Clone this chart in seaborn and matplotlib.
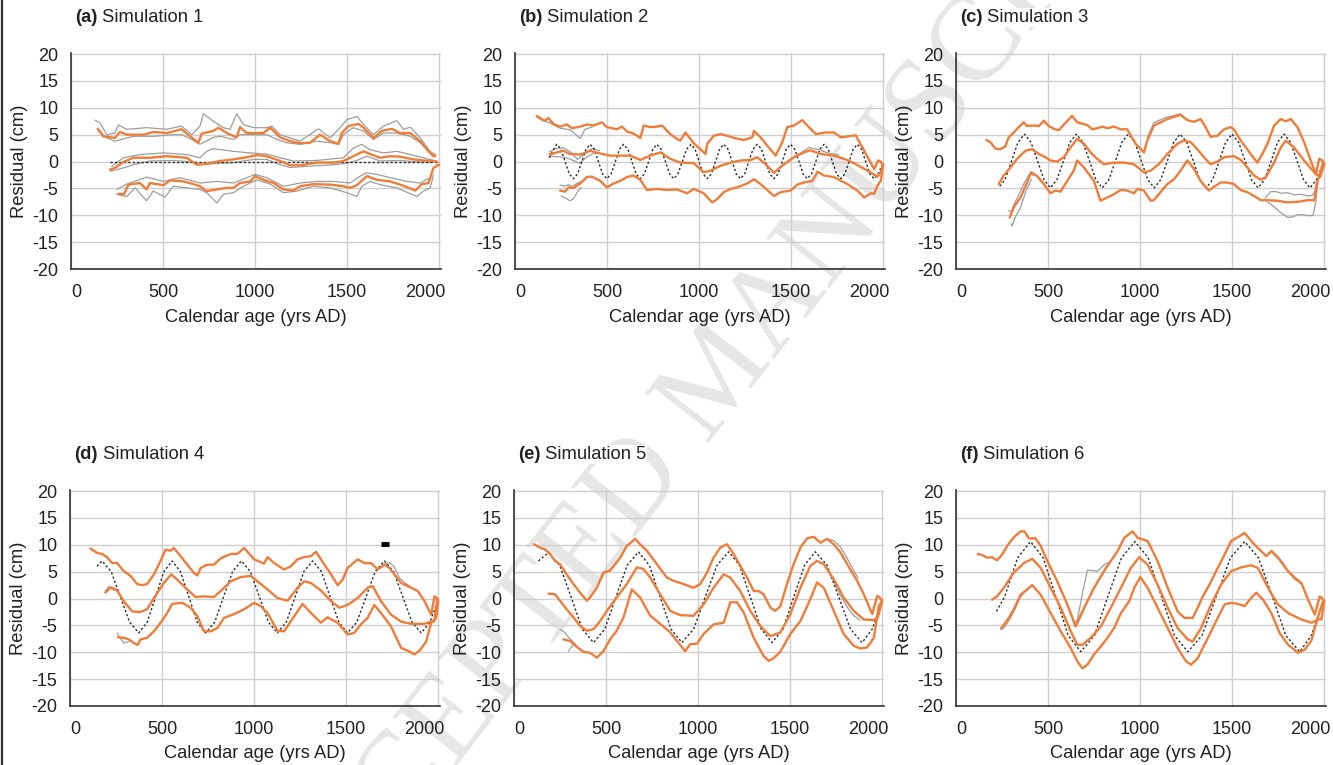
import matplotlib
matplotlib.use("Agg")
import numpy as np
import pandas as pd
import matplotlib.pyplot as plt
import matplotlib.transforms as mtransforms
from matplotlib.lines import Line2D
from matplotlib.ticker import MultipleLocator
import seaborn as sns

# ---------------------------------------------------------------------------
# Reconstructed residual series (year AD, residual in cm)
# upper / mean / lower : ensemble envelope and mean (orange)
# grey_* : individual reconstructions where they depart from the envelope
# truth : imposed signal (dotted)
# ---------------------------------------------------------------------------

# Simulation 1
s1_upper = [(145, 6.1), (176, 4.7), (239, 4.4), (266, 5.5), (303, 5.0), (393, 5.0), (447, 5.5), (520, 5.3),
            (601, 6.0), (647, 4.7), (692, 3.5), (710, 5.2), (773, 5.7), (801, 6.3), (846, 5.3), (900, 4.5),
            (918, 6.4), (955, 5.3), (1045, 5.3), (1082, 6.3), (1136, 4.5), (1190, 3.8), (1245, 3.4), (1299, 3.5),
            (1353, 5.0), (1408, 3.8), (1453, 3.3), (1471, 5.3), (1507, 6.6), (1562, 7.0), (1589, 6.3), (1643, 4.4),
            (1689, 5.7), (1743, 6.1), (1788, 5.3), (1843, 5.3), (1897, 3.8), (1942, 1.9), (1969, 1.0), (1980, 1.2)]
s1_mean = [(212, -1.5), (239, -1.2), (284, -0.1), (339, 0.7), (429, 0.7), (520, 1.0), (629, 0.7), (683, -0.6),
           (737, -0.4), (810, 0.1), (882, 0.4), (955, 0.8), (1009, 1.2), (1063, 1.0), (1136, 0.1), (1190, -0.7),
           (1245, -0.7), (1335, -0.2), (1426, -0.2), (1480, 0.1), (1534, 1.0), (1589, 1.9), (1625, 1.4),
           (1679, 0.7), (1734, 1.0), (1788, 0.9), (1861, 0.4), (1915, 0.2), (1969, 0.1), (1990, 0.0)]
s1_lower = [(257, -6.0), (288, -6.1), (312, -4.3), (375, -4.0), (411, -5.2), (429, -4.0), (502, -4.4), (538, -3.5),
            (611, -3.7), (665, -4.2), (701, -4.6), (737, -5.5), (792, -5.2), (846, -4.9), (882, -4.9), (918, -4.0),
            (973, -3.7), (1000, -2.7), (1045, -3.4), (1100, -4.0), (1154, -5.2), (1208, -5.4), (1245, -4.6),
            (1317, -4.2), (1408, -4.3), (1480, -4.6), (1516, -4.9), (1553, -4.4), (1607, -2.7), (1661, -3.4),
            (1734, -3.7), (1806, -4.5), (1870, -5.4), (1906, -4.2), (1942, -4.0), (1969, -1.2), (1991, -0.7),
            (2000, -0.6)]
s1_grey_a = [(130, 7.7), (158, 7.2), (194, 5.0), (239, 5.3), (257, 6.8), (303, 6.0), (411, 6.3), (520, 6.0),
             (601, 6.6), (656, 5.0), (701, 6.6), (719, 8.9), (773, 7.5), (828, 6.3), (864, 6.0), (900, 8.9),
             (937, 6.9), (991, 6.3), (1063, 6.3), (1090, 6.6), (1136, 5.0), (1190, 4.4), (1245, 3.8), (1344, 6.1),
             (1408, 4.4), (1462, 6.3), (1498, 7.8), (1553, 8.4), (1589, 6.9), (1643, 5.0), (1698, 6.6),
             (1770, 7.6), (1806, 6.0), (1843, 6.4), (1897, 4.4), (1951, 1.9), (1978, 1.3)]
s1_grey_b = [(149, 5.7), (194, 4.4), (239, 3.8), (339, 4.7), (447, 4.7), (556, 5.0), (601, 5.0), (656, 4.1),
             (701, 3.2), (773, 4.5), (810, 4.7), (882, 4.1), (918, 5.0), (991, 5.0), (1063, 5.0), (1118, 4.1),
             (1172, 3.5), (1245, 3.2), (1335, 3.8), (1408, 3.5), (1453, 3.2), (1480, 5.0), (1534, 6.3), (1589, 5.7),
             (1643, 4.1), (1698, 5.3), (1770, 5.3), (1843, 4.7), (1897, 3.5), (1951, 1.6), (1978, 0.8)]
s1_grey_c = [(221, -0.9), (284, 0.7), (375, 1.3), (502, 1.6), (629, 1.3), (701, 0.7), (737, 1.9), (773, 2.4),
             (882, 1.9), (973, 1.6), (1063, 1.4), (1136, 0.7), (1208, 0.1), (1335, 0.2), (1480, 0.7), (1534, 2.5),
             (1580, 3.2), (1625, 2.2), (1698, 1.6), (1770, 1.9), (1843, 1.3), (1915, 0.7), (1969, 0.2)]
s1_grey_d = [(212, -1.8), (284, -1.2), (339, -0.6), (429, 0.1), (556, 0.2), (665, -0.1), (701, -0.6), (773, -0.4),
             (882, -0.2), (991, 0.4), (1063, 0.4), (1136, -0.6), (1190, -1.1), (1281, -0.9), (1426, -0.6),
             (1498, -0.3), (1553, 0.2), (1607, 1.0), (1679, 0.1), (1788, 0.2), (1897, -0.1), (1969, -0.1)]
s1_grey_e = [(248, -5.2), (303, -4.2), (411, -2.9), (502, -3.7), (592, -3.0), (701, -4.0), (792, -3.7), (882, -4.0),
             (955, -3.0), (1000, -2.4), (1063, -3.0), (1154, -4.6), (1245, -4.0), (1335, -3.7), (1426, -3.7),
             (1516, -4.0), (1571, -2.7), (1607, -2.1), (1661, -2.4), (1734, -3.0), (1825, -3.7), (1897, -4.0),
             (1951, -3.0), (1969, -1.2)]
s1_grey_f = [(248, -6.1), (303, -6.5), (348, -4.9), (411, -7.3), (447, -5.5), (511, -6.6), (556, -4.6), (629, -4.9),
             (701, -5.2), (737, -5.8), (792, -7.7), (828, -6.1), (882, -5.8), (937, -4.6), (1009, -3.4), (1082, -4.2),
             (1154, -5.8), (1226, -5.5), (1317, -4.6), (1408, -4.9), (1498, -5.8), (1553, -6.5), (1580, -4.6),
             (1625, -3.7), (1679, -4.3), (1770, -4.9), (1879, -6.5), (1915, -5.5), (1951, -4.9), (1969, -2.5)]
s1_truth = [(212, 0.0), (2000, 0.0)]

# Simulation 2
s2_upper = [(118, 8.5), (136, 8.1), (163, 7.6), (181, 8.1), (209, 7.0), (245, 6.5), (281, 6.9), (309, 6.2),
            (354, 6.5), (390, 6.9), (427, 6.7), (472, 7.3), (499, 6.4), (554, 6.0), (581, 6.5), (608, 5.6),
            (644, 5.2), (681, 4.4), (699, 6.7), (735, 6.4), (771, 6.5), (799, 6.7), (844, 5.1), (880, 4.2),
            (898, 3.9), (926, 5.4), (971, 3.4), (1007, 2.3), (1035, 1.4), (1044, 3.3), (1080, 4.8), (1116, 5.1),
            (1153, 4.8), (1189, 4.4), (1243, 4.0), (1289, 4.5), (1298, 5.7), (1334, 4.5), (1379, 2.6), (1416, 1.1),
            (1452, 3.6), (1479, 6.4), (1516, 6.7), (1561, 7.7), (1588, 6.7), (1634, 5.1), (1688, 5.4), (1733, 5.4),
            (1770, 4.5), (1833, 4.8), (1851, 4.9), (1897, 2.0), (1951, -1.4), (1973, 0.2), (1987, 0.0),
            (1996, -0.5)]
s2_mean = [(187, 1.3), (227, 1.7), (263, 2.0), (299, 1.4), (354, 1.3), (408, 2.0), (463, 1.5), (517, 1.1),
           (572, 1.1), (626, 1.1), (681, 0.3), (735, 1.1), (790, 1.7), (844, 0.5), (898, -0.2), (971, -0.3),
           (1025, -2.0), (1062, -1.7), (1116, -0.8), (1171, -0.2), (1225, 0.2), (1280, 0.3), (1316, 0.8),
           (1361, -0.5), (1407, -2.1), (1461, -0.5), (1516, 0.8), (1570, 1.7), (1606, 2.1), (1661, 1.4),
           (1733, 1.1), (1788, 0.5), (1842, -0.3), (1915, -1.7), (1969, -2.8), (1987, -2.0), (2000, -0.5)]
s2_lower = [(245, -5.4), (272, -5.6), (290, -4.8), (318, -4.9), (354, -4.1), (390, -2.9), (417, -2.8), (463, -3.6),
            (499, -4.8), (535, -4.1), (572, -3.6), (608, -2.9), (644, -2.6), (681, -3.4), (717, -5.3), (771, -5.1),
            (826, -5.3), (880, -5.2), (935, -5.9), (971, -5.1), (1025, -5.9), (1071, -7.6), (1098, -7.0),
            (1134, -5.7), (1171, -5.1), (1207, -4.8), (1261, -4.1), (1298, -3.3), (1334, -4.2), (1370, -5.3),
            (1407, -6.4), (1443, -5.7), (1497, -5.4), (1534, -4.3), (1570, -3.9), (1615, -3.6), (1643, -1.9),
            (1679, -2.6), (1733, -2.9), (1806, -4.2), (1860, -5.4), (1897, -6.7), (1933, -5.9), (1951, -6.0),
            (1969, -4.5), (1987, -3.6), (2000, -0.5)]
s2_grey_a = [(118, 8.3), (150, 7.6), (190, 7.2), (245, 6.2), (300, 5.9), (330, 5.0), (354, 4.3), (380, 6.0),
             (420, 6.4)]
s2_grey_b = [(187, 1.8), (220, 2.4), (260, 2.6), (300, 1.8), (340, 0.4), (380, 1.5), (420, 2.4), (460, 2.0)]
s2_grey_c = [(190, 1.0), (230, 0.9), (270, 0.8), (310, 0.3), (350, -0.3), (390, 0.8), (430, 1.6)]
s2_grey_d = [(245, -4.4), (270, -4.6), (290, -4.3), (310, -4.6), (330, -4.2), (354, -3.8)]
s2_grey_e = [(250, -6.4), (275, -6.8), (300, -7.3), (318, -6.9), (340, -5.6), (360, -4.8)]
s2_grey_f = [(1440, -1.2), (1500, 0.6), (1560, 1.8), (1600, 2.6), (1650, 2.2), (1700, 1.6), (1760, 1.2)]
s2_truth = [(187, 0.7), (205, 2.0), (227, 3.2), (250, 2.3), (272, 0.0), (295, -2.3), (318, -3.2), (340, -2.3),
            (363, 0.0), (386, 2.3), (408, 3.2), (431, 2.3), (453, 0.0), (476, -2.3), (499, -3.2), (522, -2.3),
            (545, 0.0), (568, 2.3), (590, 3.2), (613, 2.3), (635, 0.0), (658, -2.3), (681, -3.2), (703, -2.3),
            (726, 0.0), (749, 2.3), (771, 3.2), (794, 2.3), (817, 0.0), (840, -2.3), (862, -3.2), (885, -2.3),
            (909, 0.0), (932, 2.3), (956, 3.2), (978, 2.3), (1000, 0.0), (1022, -2.3), (1044, -3.2), (1067, -2.3),
            (1089, 0.0), (1112, 2.3), (1134, 3.2), (1157, 2.3), (1180, 0.0), (1202, -2.3), (1225, -3.2),
            (1248, -2.3), (1270, 0.0), (1293, 2.3), (1316, 3.2), (1339, 2.3), (1361, 0.0), (1384, -2.3),
            (1407, -3.2), (1429, -2.3), (1452, 0.0), (1474, 2.3), (1497, 3.2), (1520, 2.3), (1543, 0.0),
            (1565, -2.3), (1588, -3.2), (1611, -2.3), (1634, 0.0), (1656, 2.3), (1679, 3.2), (1702, 2.3),
            (1724, 0.0), (1747, -2.3), (1770, -3.2), (1792, -2.3), (1815, 0.0), (1837, 2.3), (1860, 3.2),
            (1883, 2.3), (1905, 0.0), (1928, -2.3), (1951, -3.2), (1973, -2.3), (1995, -0.6)]

# Simulation 3
s3_upper = [(165, 4.0), (187, 3.6), (214, 2.4), (241, 2.3), (268, 2.8), (286, 4.5), (314, 5.4), (332, 6.1),
            (368, 7.3), (386, 6.6), (422, 6.7), (450, 6.6), (477, 7.6), (504, 6.6), (531, 6.1), (558, 5.8),
            (586, 6.9), (631, 8.5), (658, 7.3), (713, 6.8), (740, 6.0), (767, 6.2), (794, 6.5), (821, 6.2),
            (858, 6.5), (894, 6.0), (930, 6.0), (976, 3.3), (1021, 1.7), (1039, 3.9), (1075, 6.7), (1111, 7.3),
            (1148, 7.9), (1175, 8.2), (1220, 8.7), (1257, 7.7), (1293, 7.4), (1329, 7.9), (1356, 6.4), (1383, 4.6),
            (1420, 4.8), (1456, 6.0), (1492, 6.4), (1510, 6.0), (1547, 3.9), (1601, 1.4), (1637, -0.2), (1664, 1.4),
            (1692, 3.3), (1728, 6.7), (1764, 7.9), (1791, 7.5), (1819, 7.9), (1855, 6.4), (1891, 3.6), (1927, 0.2),
            (1955, -2.4), (1973, 0.5), (1991, 0.2), (2000, -0.5)]
s3_mean = [(232, -4.2), (259, -2.6), (296, -1.1), (332, 0.5), (377, 2.0), (413, 2.3), (450, 1.4), (486, 0.8),
           (513, 0.2), (549, 0.0), (586, 0.8), (622, 2.6), (658, 4.2), (695, 3.3), (731, 1.7), (767, 0.5),
           (803, -0.5), (858, -0.2), (912, -0.2), (966, -0.5), (1021, -2.0), (1057, -1.7), (1102, -0.5),
           (1148, 1.4), (1202, 3.3), (1238, 3.9), (1275, 3.6), (1311, 2.3), (1347, 0.8), (1383, -0.5), (1420, 0.0),
           (1456, 0.8), (1510, 1.0), (1547, 0.3), (1583, -1.1), (1619, -2.6), (1655, -3.4), (1683, -2.9),
           (1728, -0.2), (1764, 2.6), (1791, 3.9), (1837, 2.6), (1891, 0.2), (1946, -2.0), (1978, -2.9),
           (2000, -0.5)]
s3_lower = [(292, -10.4), (314, -8.5), (350, -6.7), (386, -3.9), (408, -2.0), (441, -2.7), (477, -4.2),
            (513, -5.9), (540, -5.4), (568, -5.6), (604, -3.6), (640, -1.7), (658, 0.2), (695, -1.1), (749, -3.6),
            (785, -7.3), (821, -6.7), (858, -6.1), (894, -5.3), (930, -5.4), (966, -5.9), (985, -5.1), (1021, -5.4),
            (1057, -7.3), (1075, -7.2), (1111, -5.7), (1148, -4.2), (1184, -3.3), (1220, -1.7), (1257, 0.2),
            (1293, -1.4), (1329, -3.6), (1374, -5.4), (1402, -4.7), (1438, -3.9), (1474, -3.9), (1510, -4.2),
            (1547, -5.3), (1583, -5.7), (1619, -6.4), (1655, -7.2), (1692, -7.2), (1746, -7.3), (1800, -7.6),
            (1855, -7.5), (1909, -7.2), (1946, -7.2), (1964, -3.6), (1978, -2.3), (1991, -0.5)]
s3_grey_a = [(286, -9.1), (300, -9.4), (314, -8.0), (340, -6.3), (370, -4.0), (400, -2.3), (420, -2.6)]
s3_grey_b = [(300, -11.6), (305, -12.0), (320, -10.5), (350, -8.6), (380, -5.5), (410, -3.3)]
s3_grey_c = [(1680, -6.8), (1710, -5.6), (1740, -5.6), (1764, -5.9), (1800, -5.8), (1840, -6.2), (1873, -6.1),
             (1910, -6.4), (1935, -6.3), (1950, -5.5), (1960, -3.6)]
s3_grey_d = [(1690, -7.5), (1728, -8.4), (1760, -9.4), (1800, -10.4), (1830, -10.3), (1855, -9.9), (1890, -9.9),
             (1918, -10.1), (1940, -10.0), (1955, -7.5), (1965, -4.0)]
s3_grey_e = [(1040, 4.5), (1075, 7.2), (1111, 7.8), (1148, 8.3), (1175, 8.5), (1220, 8.9)]
s3_truth = [(238, -4.6), (266, -3.4), (302, 0.1), (337, 3.6), (372, 5.1), (407, 3.6), (443, 0.1), (478, -3.4),
            (513, -4.9), (548, -3.4), (584, 0.1), (619, 3.6), (654, 5.1), (689, 3.6), (725, 0.1), (760, -3.4),
            (795, -4.9), (830, -3.4), (866, 0.1), (901, 3.6), (936, 5.1), (971, 3.6), (1007, 0.1), (1042, -3.4),
            (1077, -4.9), (1112, -3.4), (1148, 0.1), (1183, 3.6), (1218, 5.1), (1253, 3.6), (1289, 0.1),
            (1324, -3.4), (1359, -4.9), (1394, -3.4), (1430, 0.1), (1465, 3.6), (1500, 5.1), (1535, 3.6),
            (1571, 0.1), (1606, -3.4), (1641, -4.9), (1676, -3.4), (1712, 0.1), (1747, 3.6), (1782, 5.1),
            (1817, 3.6), (1853, 0.1), (1888, -3.4), (1923, -4.9), (1958, -3.4), (1995, -0.3)]

# Simulation 4
s4_upper = [(111, 9.3), (147, 8.5), (174, 8.3), (201, 7.7), (229, 6.6), (256, 6.6), (292, 5.1), (329, 4.2),
            (365, 2.7), (392, 2.5), (419, 2.7), (456, 4.5), (492, 7.0), (519, 9.1), (546, 8.9), (564, 9.4),
            (601, 7.9), (637, 6.3), (673, 4.8), (692, 4.3), (710, 5.7), (746, 6.3), (782, 6.3), (819, 7.5),
            (873, 8.3), (909, 8.3), (946, 9.4), (1000, 7.3), (1054, 6.5), (1073, 7.7), (1109, 6.6), (1163, 5.4),
            (1200, 6.0), (1236, 7.3), (1272, 7.7), (1309, 7.9), (1336, 8.7), (1363, 7.3), (1418, 4.5), (1454, 2.5),
            (1481, 3.5), (1508, 5.7), (1563, 7.3), (1599, 6.6), (1635, 6.6), (1672, 5.4), (1708, 6.3), (1735, 5.7),
            (1762, 4.5), (1799, 2.9), (1853, 2.0), (1889, 1.4), (1926, -0.5), (1962, -3.0), (1980, 0.4),
            (1995, 0.1), (2000, -0.6)]
s4_mean = [(192, 1.1), (220, 2.0), (256, 1.5), (292, -0.5), (338, -2.4), (383, -2.5), (419, -2.0), (456, 0.1),
           (510, 2.9), (550, 4.5), (583, 3.5), (637, 1.7), (682, 0.3), (728, 0.4), (782, 0.3), (819, 1.4),
           (873, 3.2), (927, 4.0), (982, 4.2), (1018, 3.2), (1073, 1.7), (1127, 0.1), (1182, -0.4), (1236, 2.0),
           (1272, 3.2), (1309, 2.9), (1363, 1.5), (1418, -0.5), (1463, -1.7), (1508, -1.2), (1563, 0.1),
           (1617, 2.0), (1644, 2.3), (1690, -0.5), (1744, -3.0), (1799, -4.3), (1853, -4.7), (1926, -4.7),
           (1971, -4.2), (1989, -3.6), (2000, -0.6)]
s4_lower = [(260, -7.2), (292, -7.3), (319, -7.6), (347, -8.3), (368, -8.6), (383, -7.6), (419, -7.3), (456, -6.1),
            (492, -4.5), (528, -2.7), (555, -1.0), (610, -0.8), (655, -1.7), (692, -3.3), (728, -6.1), (764, -6.1),
            (800, -5.5), (837, -3.6), (891, -2.9), (946, -2.0), (1000, -0.8), (1036, -1.4), (1073, -2.7),
            (1127, -6.0), (1163, -6.1), (1200, -4.2), (1236, -2.4), (1263, -1.0), (1309, -2.7), (1363, -4.5),
            (1399, -3.5), (1454, -4.5), (1508, -6.7), (1544, -6.4), (1581, -4.8), (1617, -3.6), (1653, -1.2),
            (1690, -2.7), (1744, -5.2), (1799, -9.2), (1835, -9.7), (1871, -10.4), (1899, -9.7), (1935, -8.0),
            (1962, -4.5), (1980, -4.2), (1995, -0.2)]
s4_grey_a = [(256, -6.4), (274, -7.4), (292, -8.3), (320, -8.0)]
s4_grey_b = [(1700, 6.3), (1735, 6.7), (1762, 5.9), (1790, 3.8), (1820, 2.9), (1850, 2.2)]
s4_grey_c = [(192, 1.4), (210, 2.2), (230, 2.1), (256, 1.7)]
s4_truth = [(147, 6.0), (174, 7.0), (224, 5.0), (274, 0.3), (324, -4.4), (374, -6.4), (419, -4.4), (465, 0.3),
            (510, 5.0), (555, 7.0), (600, 5.0), (646, 0.3), (691, -4.4), (737, -6.4), (786, -4.4), (834, 0.3),
            (883, 5.0), (931, 7.0), (980, 5.0), (1029, 0.3), (1078, -4.4), (1127, -6.4), (1175, -4.4),
            (1223, 0.3), (1270, 5.0), (1318, 7.0), (1366, 5.0), (1413, 0.3), (1461, -4.4), (1508, -6.4),
            (1558, -4.4), (1608, 0.3), (1658, 5.0), (1708, 7.0), (1758, 5.0), (1808, 0.3), (1858, -4.4),
            (1908, -6.4), (1955, -4.4), (1998, -0.5)]
s4_bar = [(1690, 10.2), (1735, 10.2)]

# Simulation 5
s5_upper = [(109, 10.1), (141, 9.5), (169, 9.1), (196, 8.3), (223, 7.0), (250, 6.4), (286, 4.5), (323, 2.7),
            (359, 1.1), (395, -0.4), (413, 0.2), (450, 2.0), (486, 4.8), (522, 5.2), (577, 7.6), (613, 9.8),
            (658, 11.1), (685, 10.1), (722, 8.9), (776, 6.4), (830, 3.9), (867, 3.3), (921, 2.7), (975, 2.0),
            (1012, 2.7), (1048, 4.8), (1084, 7.6), (1121, 9.5), (1157, 10.1), (1193, 8.3), (1229, 6.1), (1266, 3.9),
            (1302, 1.4), (1329, 1.4), (1356, 0.8), (1393, -1.7), (1420, -2.3), (1447, -1.4), (1483, 2.7),
            (1519, 6.4), (1556, 9.5), (1592, 11.2), (1628, 11.5), (1664, 10.4), (1701, 11.1), (1737, 10.1),
            (1773, 8.6), (1810, 6.4), (1864, 3.3), (1900, 0.8), (1946, -2.9), (1973, 0.5), (1987, 0.2),
            (2000, -0.4)]
s5_mean = [(187, 0.9), (223, 0.8), (250, -0.4), (286, -2.0), (323, -3.5), (359, -5.1), (395, -6.0), (432, -5.7),
           (468, -4.2), (504, -2.3), (558, 0.2), (613, 2.7), (667, 5.8), (703, 5.5), (740, 3.9), (794, 0.8),
           (849, -2.3), (903, -3.1), (975, -3.2), (1030, -1.1), (1084, 2.0), (1139, 4.5), (1175, 3.9), (1229, 1.4),
           (1284, -2.3), (1338, -5.1), (1393, -7.0), (1447, -6.3), (1501, -2.9), (1556, 2.0), (1610, 6.1),
           (1646, 7.0), (1683, 6.4), (1737, 3.6), (1791, 0.2), (1846, -2.3), (1900, -3.9), (1955, -4.0),
           (1977, -3.5), (2000, -0.4)]
s5_lower = [(268, -7.6), (305, -7.9), (341, -9.0), (377, -9.9), (413, -10.1), (450, -11.0), (486, -9.8),
            (522, -7.6), (558, -6.0), (595, -3.5), (640, 1.7), (685, 0.2), (740, -3.2), (794, -4.7), (849, -6.3),
            (885, -7.9), (930, -9.8), (957, -8.5), (994, -8.4), (1030, -6.6), (1084, -4.8), (1139, -4.5),
            (1175, -0.7), (1211, -0.7), (1248, -2.6), (1302, -7.3), (1356, -10.7), (1384, -11.6), (1411, -11.1),
            (1447, -9.9), (1501, -6.6), (1556, -4.2), (1610, -0.1), (1646, 3.0), (1683, 2.0), (1737, -2.3),
            (1791, -6.6), (1846, -8.8), (1882, -9.3), (1918, -9.1), (1955, -7.3), (1982, -1.4), (2000, -0.4)]
s5_grey_a = [(250, -5.7), (275, -6.3), (296, -7.2), (320, -8.0), (345, -9.0)]
s5_grey_b = [(296, -9.8), (305, -9.3), (320, -8.6)]
s5_grey_c = [(1700, 11.1), (1737, 10.8), (1773, 9.6), (1810, 7.5), (1840, 5.5), (1870, 3.8)]
s5_grey_d = [(1700, 5.6), (1737, 3.2), (1773, 0.6), (1810, -1.6), (1846, -3.2), (1880, -4.0)]
s5_truth = [(132, 7.0), (187, 8.5), (248, 6.2), (310, 0.3), (371, -5.7), (432, -8.2), (493, -5.7), (554, 0.3),
            (615, 6.2), (676, 8.7), (735, 6.2), (794, 0.3), (853, -5.7), (912, -8.2), (976, -5.7), (1039, 0.3),
            (1103, 6.2), (1166, 8.7), (1225, 6.2), (1284, 0.3), (1343, -5.7), (1402, -8.2), (1461, -5.7),
            (1520, 0.3), (1578, 6.2), (1637, 8.7), (1701, 6.2), (1764, 0.3), (1828, -5.7), (1891, -8.2),
            (1946, -5.7), (1995, -1.0)]

# Simulation 6
s6_upper = [(118, 8.3), (142, 8.1), (169, 7.6), (196, 7.7), (223, 7.1), (251, 8.2), (278, 9.8), (314, 11.4),
            (351, 12.5), (372, 12.5), (396, 11.2), (432, 11.2), (460, 9.8), (496, 7.0), (550, 3.2), (605, -1.1),
            (650, -5.2), (678, -3.0), (714, -0.5), (750, 2.0), (805, 5.1), (841, 7.0), (877, 8.8), (914, 11.3),
            (959, 12.5), (987, 11.3), (1041, 10.7), (1095, 7.0), (1150, 2.0), (1204, -2.4), (1241, -3.6),
            (1286, -3.6), (1313, -1.7), (1341, 0.4), (1377, 2.6), (1422, 5.7), (1459, 8.2), (1495, 10.7),
            (1531, 11.4), (1568, 12.2), (1604, 10.7), (1640, 9.4), (1686, 7.9), (1713, 8.8), (1749, 7.6),
            (1804, 5.1), (1840, 3.9), (1876, 2.9), (1913, -0.2), (1949, -3.0), (1976, 0.4), (1989, 0.1),
            (2000, -0.5)]
s6_mean = [(196, -0.2), (223, 0.4), (260, 2.0), (314, 4.8), (369, 6.6), (414, 7.4), (460, 5.7), (514, 2.0),
           (569, -1.7), (623, -6.1), (659, -8.6), (687, -8.6), (732, -7.3), (787, -5.2), (841, -1.7), (896, 2.0),
           (950, 5.7), (995, 7.7), (1041, 6.3), (1095, 2.6), (1150, -1.7), (1204, -5.5), (1259, -7.6),
           (1286, -8.0), (1331, -5.5), (1386, -1.1), (1440, 2.6), (1495, 5.1), (1550, 5.8), (1604, 6.2),
           (1640, 5.7), (1695, 2.0), (1749, -1.1), (1804, -2.7), (1876, -3.9), (1931, -4.5), (1967, -3.9),
           (1985, -3.9), (2000, -0.6)]
s6_lower = [(245, -5.5), (269, -4.5), (287, -3.6), (314, -2.0), (351, 0.7), (387, 1.7), (414, 2.5), (460, 0.7),
            (514, -2.7), (569, -6.1), (623, -9.2), (659, -11.7), (687, -13.0), (714, -12.3), (750, -10.4),
            (787, -8.9), (823, -7.3), (859, -5.5), (896, -2.7), (941, -0.5), (968, 2.0), (1001, 4.0), (1041, 2.0),
            (1095, -1.7), (1150, -5.5), (1204, -9.2), (1250, -11.7), (1277, -12.3), (1313, -11.1), (1350, -8.6),
            (1386, -6.1), (1422, -3.6), (1459, -1.1), (1495, -0.8), (1531, -1.0), (1568, -1.4), (1604, 0.1),
            (1631, 1.1), (1668, -0.2), (1713, -2.7), (1758, -6.4), (1804, -8.6), (1858, -10.1), (1895, -9.5),
            (1931, -7.8), (1949, -5.5), (1976, -2.4), (1994, -0.5)]
s6_grey_a = [(640, -4.5), (659, -4.0), (690, 1.5), (714, 5.3), (740, 5.2), (768, 5.1), (805, 6.3), (841, 6.9)]
s6_grey_b = [(659, -4.8), (690, -2.5), (720, 0.0), (750, 2.0), (790, 4.5), (830, 6.5)]
s6_grey_c = [(245, -5.8), (260, -5.5), (290, -4.0), (320, -2.0), (350, 0.3), (380, 1.5), (414, 2.4)]
s6_grey_d = [(1690, 8.0), (1713, 9.0), (1749, 7.8), (1780, 6.5), (1804, 5.0), (1840, 3.6), (1876, 2.7)]
s6_truth = [(220, -2.4), (265, 0.4), (335, 7.6), (405, 10.6), (473, 7.6), (542, 0.4), (610, -6.9), (678, -9.9),
            (752, -6.9), (825, 0.4), (899, 7.6), (972, 10.6), (1044, 7.6), (1116, 0.4), (1187, -6.9),
            (1259, -9.9), (1336, -6.9), (1414, 0.4), (1491, 7.6), (1568, 10.6), (1643, 7.6), (1718, 0.4),
            (1792, -6.9), (1867, -9.9), (1930, -6.9), (1995, -0.5)]

panel_letters = ["(a)", "(b)", "(c)", "(d)", "(e)", "(f)"]
panel_names = ["Simulation 1", "Simulation 2", "Simulation 3", "Simulation 4", "Simulation 5", "Simulation 6"]
x_ticks = [0, 500, 1000, 1500, 2000]
y_ticks = [-20, -15, -10, -5, 0, 5, 10, 15, 20]
x_label = "Calendar age (yrs AD)"
y_label = "Residual (cm)"
watermark = "ACCEPTED MANUSCRIPT"

panels = [
    dict(env=[s1_upper, s1_mean, s1_lower],
         grey=[s1_grey_a, s1_grey_b, s1_grey_c, s1_grey_d, s1_grey_e, s1_grey_f], truth=s1_truth),
    dict(env=[s2_upper, s2_mean, s2_lower],
         grey=[s2_grey_a, s2_grey_b, s2_grey_c, s2_grey_d, s2_grey_e, s2_grey_f], truth=s2_truth),
    dict(env=[s3_upper, s3_mean, s3_lower],
         grey=[s3_grey_a, s3_grey_b, s3_grey_c, s3_grey_d, s3_grey_e], truth=s3_truth),
    dict(env=[s4_upper, s4_mean, s4_lower],
         grey=[s4_grey_a, s4_grey_b, s4_grey_c], truth=s4_truth, bar=s4_bar),
    dict(env=[s5_upper, s5_mean, s5_lower],
         grey=[s5_grey_a, s5_grey_b, s5_grey_c, s5_grey_d], truth=s5_truth),
    dict(env=[s6_upper, s6_mean, s6_lower],
         grey=[s6_grey_a, s6_grey_b, s6_grey_c, s6_grey_d], truth=s6_truth),
]

# ---------------------------------------------------------------------------
ORANGE = "#EF7D3A"
GREY = "#9d9d9d"
INK = "#222222"
GRID = "#cfcfcf"

sns.set_theme(style="white")
plt.rcParams["font.family"] = ["Liberation Sans", "DejaVu Sans"]

W, H = 1333, 765
fig = plt.figure(figsize=(W / 100, H / 100), dpi=100)
fig.patch.set_facecolor("white")

# axes frames in pixels (left, top)
frames = [(71, 53), (515, 53), (956, 53), (70, 490), (514, 490), (956, 490)]
AX_W, AX_H = 370, 216


def line(ax, pts, **kw):
    df = pd.DataFrame(pts, columns=["year", "resid"])
    sns.lineplot(data=df, x="year", y="resid", ax=ax, sort=False, estimator=None,
                 legend=False, **kw)


for i, (panel, (px, py)) in enumerate(zip(panels, frames)):
    ax = fig.add_axes([px / W, 1 - (py + AX_H) / H, AX_W / W, AX_H / H])
    ax.patch.set_alpha(0)

    for g in panel["grey"]:
        line(ax, g, color=GREY, linewidth=0.9, zorder=2)
    line(ax, panel["truth"], color="#2a2a2a", linewidth=1.0, linestyle=(0, (1.6, 1.6)), zorder=2.5)
    for env in panel["env"]:
        line(ax, env, color=ORANGE, linewidth=1.7, zorder=3)
    if "bar" in panel:
        line(ax, panel["bar"], color="black", linewidth=3.5, zorder=4,
             solid_capstyle="butt")

    ax.set_xlim(0, 2010)
    ax.set_ylim(-20, 20.2)
    ax.set_xticks(x_ticks)
    ax.xaxis.set_minor_locator(MultipleLocator(100))
    ax.set_yticks(y_ticks)
    ax.grid(True, which="major", color=GRID, linewidth=1.0, zorder=0)
    ax.set_axisbelow(True)

    for side in ("top", "right"):
        ax.spines[side].set_visible(False)
    for side in ("left", "bottom"):
        ax.spines[side].set_color("#333333")
        ax.spines[side].set_linewidth(1.2)

    ax.tick_params(axis="both", which="major", direction="out", length=7, width=1.1,
                   color="#333333", labelsize=13, labelcolor=INK, pad=2)
    ax.tick_params(axis="x", which="major", pad=4)
    ax.tick_params(axis="x", which="minor", direction="out", length=4, width=1.0, color="#333333")
    ax.tick_params(axis="y", which="minor", length=0)

    labs = ax.set_xticklabels([str(t) for t in x_ticks])
    labs[0].set_ha("left")
    labs[-1].set_transform(labs[-1].get_transform()
                           + mtransforms.ScaledTranslation(-14 / 100, 0, fig.dpi_scale_trans))
    ax.set_yticklabels([str(t) for t in y_ticks])

    ax.set_xlabel(x_label, fontsize=13.2, color=INK)
    ax.set_ylabel(y_label, fontsize=13.2, color=INK)
    ax.xaxis.set_label_coords(0.5, -39.5 / AX_H)
    ax.yaxis.set_label_coords(-43 / AX_W, 0.5)

    t1 = ax.text(4 / AX_W, 1 + 35.5 / AX_H, panel_letters[i], transform=ax.transAxes,
                 fontsize=13.2, fontweight="bold", color=INK, ha="left", va="center",
                 bbox=dict(fc="white", ec="none", pad=0.5))
    ax.annotate(" " + panel_names[i], xy=(1, 0), xycoords=t1, ha="left", va="bottom",
                fontsize=13.2, color=INK, bbox=dict(fc="white", ec="none", pad=0.5))

# watermark behind the panels
fig.text(722 / W, 1 - 378 / H, watermark, fontsize=88, family="Liberation Serif",
         color="#e6e6e6", rotation=52, ha="center", va="center", rotation_mode="anchor", zorder=-5)

# page edge
fig.add_artist(Line2D([1.5 / W, 1.5 / W], [0, 1], color="#333333", linewidth=1.6,
                      transform=fig.transFigure))

fig.savefig("out.png", dpi=100, facecolor="white")
